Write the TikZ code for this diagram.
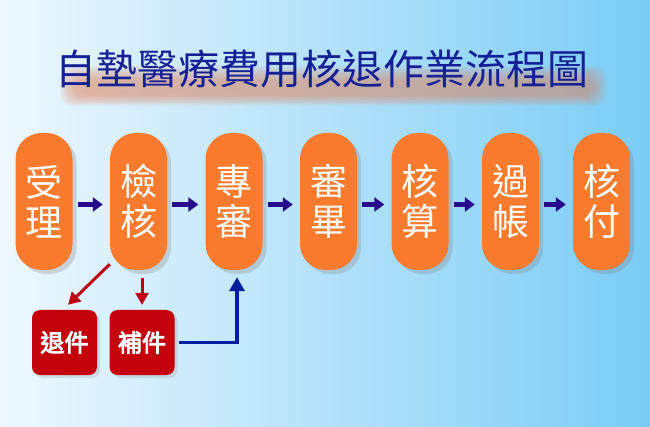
\documentclass[tikz,border=0pt]{standalone}
\usepackage{fontspec}
\newfontfamily\cjk{Noto Sans CJK TC}
\newfontfamily\cjkbold[FakeBold=4]{Noto Sans CJK TC}
\usetikzlibrary{arrows.meta,calc,shadows}
\definecolor{bgl}{RGB}{238,248,254}
\definecolor{bgr}{RGB}{122,204,246}
\definecolor{boxorange}{RGB}{250,122,46}
\definecolor{boxred}{RGB}{196,0,10}
\definecolor{flowarrow}{RGB}{40,10,140}
\definecolor{redarrow}{RGB}{190,0,20}
\definecolor{bluearrow}{RGB}{0,30,160}
\definecolor{titleblue}{RGB}{22,32,150}
\definecolor{titleshadow}{RGB}{225,130,90}
\tikzset{
  stepbox/.style={draw=none, fill=boxorange, rounded corners=26pt,
    minimum width=57pt, minimum height=137pt, inner sep=0pt,
    text=white, font=\cjk\fontsize{37pt}{40pt}\selectfont, align=center,
    drop shadow={opacity=0.28, shadow xshift=4pt, shadow yshift=-4pt}},
  redbox/.style={draw=none, fill=boxred, rounded corners=8pt,
    minimum width=65pt, minimum height=65pt, inner sep=0pt,
    text=white, font=\cjkbold\fontsize{24pt}{26pt}\selectfont,
    drop shadow={opacity=0.2, shadow xshift=3pt, shadow yshift=-3pt}},
  flow/.style={draw=flowarrow, line width=5pt, -{Triangle[length=10pt,width=14pt]}},
  redline/.style={draw=redarrow, line width=3pt, -{Triangle[length=12pt,width=13pt]}},
  blueline/.style={draw=bluearrow, line width=3.5pt, -{Triangle[length=14pt,width=15pt]}},
  titletext/.style={font=\cjk\fontsize{41pt}{44pt}\selectfont, inner sep=0pt},
  blurlayer/.style={fill=titleshadow, opacity=0.09, draw=none},
}
\begin{document}
\begin{tikzpicture}[x=1pt,y=-1pt]
\useasboundingbox (0,0) rectangle (650,427);
\shade[left color=bgl, right color=bgr] (0,0) rectangle (650,427);
% blurred title shadow
\foreach \i in {0,...,7} {
  \fill[blurlayer, rounded corners=12pt] (60+2*\i,66+2*\i) rectangle (606-2*\i,106-1.5*\i);
}
\node[titletext, text=titleblue] (title) at (322,69) {自墊醫療費用核退作業流程圖};
% main steps
\node[stepbox] (n1) at (44,201.5) {受\\理};
\node[stepbox] (n2) at (138.5,201.5) {檢\\核};
\node[stepbox] (n3) at (234,201.5) {專\\審};
\node[stepbox] (n4) at (328.5,201.5) {審\\畢};
\node[stepbox] (n5) at (420,201.5) {核\\算};
\node[stepbox] (n6) at (510.5,201.5) {過\\帳};
\node[stepbox] (n7) at (601.5,201.5) {核\\付};
\foreach \a/\b in {n1/n2,n2/n3,n3/n4,n4/n5,n5/n6,n6/n7} {
  \draw[flow] ($(\a.east)+(5,3)$) -- ($(\b.west)+(-7,3)$);
}
% side boxes
\node[redbox] (r1) at (64.5,342.5) {退件};
\node[redbox] (r2) at (142,342.5) {補件};
\draw[redline] ($(n2.south west)+(0,-6)$) -- ($(r1.north)+(3.5,-5)$);
\draw[redline] ($(r2.north)+(0,-32)$) -- ($(r2.north)+(0,-5)$);
\draw[blueline] ($(r2.east)+(4,0)$) -| ($(n3.south)+(3,7)$);
\end{tikzpicture}
\end{document}
